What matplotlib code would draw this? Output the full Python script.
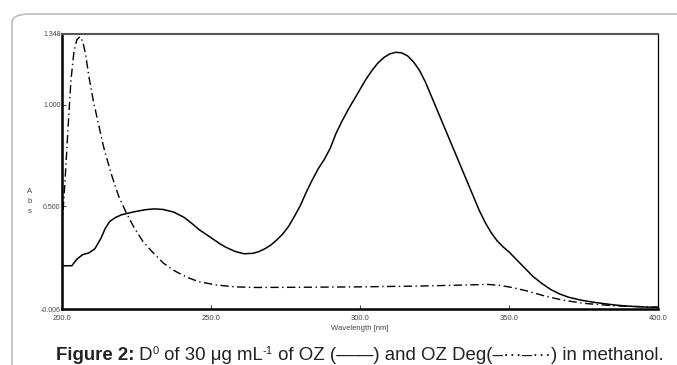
import matplotlib
matplotlib.use("Agg")
import matplotlib.pyplot as plt
from matplotlib.patches import FancyBboxPatch

plt.rcParams['font.family'] = ['Liberation Sans', 'DejaVu Sans']

# OZ (solid)
oz_wl = [200, 203.3, 205, 207, 209, 211, 213, 214.5, 216, 218, 220, 224, 228, 231, 234,
         237.5, 241, 244, 246, 250, 253, 255, 258, 261, 264, 266, 268, 270, 272, 274, 276,
         278, 280, 282, 284, 286, 288, 290, 292, 294, 296, 298, 300, 302, 304, 306, 308,
         310, 312, 314, 316, 318, 320, 322, 324, 326, 328, 330, 332, 334, 336, 338, 340,
         342, 344, 346, 348, 350, 352, 355, 358, 361, 364, 367, 370, 374, 378, 382, 386,
         390, 395, 400]
oz_abs = [0.207, 0.207, 0.24, 0.262, 0.27, 0.29, 0.34, 0.39, 0.425, 0.445, 0.458, 0.472,
          0.483, 0.487, 0.484, 0.471, 0.445, 0.41, 0.385, 0.345, 0.315, 0.298, 0.278,
          0.266, 0.268, 0.276, 0.29, 0.308, 0.333, 0.362, 0.40, 0.45, 0.504, 0.57, 0.63,
          0.685, 0.73, 0.785, 0.86, 0.92, 0.975, 1.025, 1.075, 1.125, 1.168, 1.205, 1.232,
          1.25, 1.258, 1.255, 1.24, 1.21, 1.168, 1.11, 1.04, 0.97, 0.90, 0.83, 0.76, 0.69,
          0.62, 0.55, 0.48, 0.42, 0.37, 0.33, 0.30, 0.275, 0.245, 0.20, 0.155, 0.12, 0.09,
          0.068, 0.052, 0.038, 0.028, 0.02, 0.013, 0.008, 0.004, 0.002]

# OZ Deg (dash-dot)
deg_wl = [200, 201, 202, 203, 204, 205, 206, 207, 208, 209, 210.5, 212, 214, 216.5,
          219, 221.5, 224, 227, 230, 234, 238, 242, 246, 252, 258, 265, 280, 300, 320,
          335, 343, 347, 351, 356, 362, 368, 375, 385, 400]
deg_abs = [0.40, 0.62, 0.88, 1.12, 1.26, 1.32, 1.335, 1.31, 1.24, 1.14, 1.02, 0.92,
           0.79, 0.66, 0.55, 0.47, 0.40, 0.33, 0.28, 0.22, 0.18, 0.15, 0.128, 0.112,
           0.103, 0.10, 0.101, 0.103, 0.107, 0.112, 0.115, 0.11, 0.10, 0.083, 0.058,
           0.038, 0.022, 0.01, 0.003]

xticks = [200, 250, 300, 350, 400]
yticks = [-0.006, 0.5, 1.0, 1.348]

# caption pieces: text, weight, size, raise (px)
caption = [('Figure 2:', 'bold', 13.4, 0),
           (' D', 'normal', 13.4, 0),
           ('0', 'normal', 8, 6),
           (' of 30 μg mL', 'normal', 13.4, 0),
           ('-1', 'normal', 8, 6),
           (' of OZ (——) and OZ Deg(–···–···) in methanol.', 'normal', 13.4, 0)]

fig = plt.figure(figsize=(6.77, 3.65), dpi=100)

# rounded frame around the figure
frame = FancyBboxPatch((12 / 677, -0.2), 1.2, 0.9616 + 0.2,
                       boxstyle="round,pad=0,rounding_size=0.025",
                       transform=fig.transFigure, fill=False,
                       edgecolor='#bdbdbd', linewidth=1.2, clip_on=False)
fig.patches.append(frame)

ax = fig.add_axes([62 / 677, 56 / 365, 596 / 677, 275 / 365])
ax.plot(oz_wl, oz_abs, color='black', linewidth=1.1)
ax.plot(deg_wl, deg_abs, color='black', linewidth=1.0, dashes=(6, 2.5, 1, 2.5))

ax.set_xlim(200, 400)
ax.set_ylim(-0.006, 1.348)
ax.set_xticks(xticks)
ax.set_xticklabels(['%.1f' % v for v in xticks])
ax.set_yticks(yticks)
ax.set_yticklabels(['%.3f' % v for v in yticks])
ax.tick_params(axis='x', direction='in', length=3, labelsize=5.5, pad=4, colors='#444444')
ax.tick_params(axis='y', direction='in', length=3, labelsize=5, pad=1, colors='#444444')

for s in ['left', 'bottom']:
    ax.spines[s].set_linewidth(1.8)
    ax.spines[s].set_color('black')
ax.spines['top'].set_linewidth(1.5)
ax.spines['top'].set_color('#555555')
ax.spines['right'].set_linewidth(0.9)
ax.spines['right'].set_color('black')

fig.text(360 / 677, 1 - 328 / 365, 'Wavelength [nm]', fontsize=5.5, ha='center',
         va='center', color='#444444')
fig.text(30 / 677, 1 - 202 / 365, 'A\nb\ns', fontsize=5.5, ha='center',
         va='center', color='#444444', linespacing=1.6)

# caption laid out piece by piece
r = fig.canvas.get_renderer()
x_px = 56
y_base = 365 - 360
for txt, w, fs, rise in caption:
    t = fig.text(x_px / 677, (y_base + rise) / 365, txt, fontsize=fs, weight=w,
                 color='#222222', va='baseline')
    x_px = t.get_window_extent(r).x1

fig.savefig('out.png', dpi=100)
